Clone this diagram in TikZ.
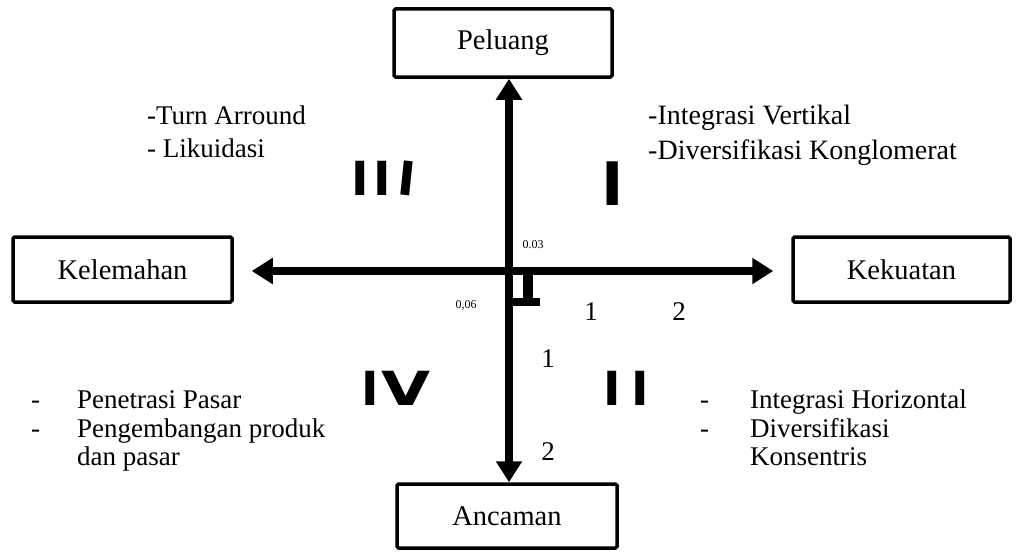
\documentclass[tikz,border=0pt]{standalone}
\usepackage{fontspec}
\setmainfont{Liberation Serif}
\newfontfamily\romfont{DejaVu Sans}
\usetikzlibrary{arrows.meta}
\tikzset{
  box/.style={draw, line width=3.5pt, rounded corners=1.5pt, inner sep=0pt, font=\fontsize{28.5}{34}\selectfont},
  axis/.style={line width=8pt, -{Triangle[width=25pt,length=21pt]}},
  lst/.style={anchor=base west, inner sep=0pt, font=\fontsize{27}{32}\selectfont},
  num/.style={inner sep=0pt, font=\fontsize{27}{32}\selectfont},
  small/.style={inner sep=0pt, font=\fontsize{12}{14}\selectfont},
  rom/.style={inner sep=0pt, font=\romfont\bfseries\fontsize{47}{47}\selectfont}
}
\begin{document}
\begin{tikzpicture}[x=1pt,y=-1pt]
\useasboundingbox (0,0) rectangle (1016,551);
% boxes
\node[box, minimum width=218pt, minimum height=68pt] (P) at (503,43) {Peluang};
\node[box, minimum width=220pt, minimum height=64pt] (A) at (507,516) {Ancaman};
\node[box, minimum width=219pt, minimum height=65pt] (W) at (122.5,269.5) {Kelemahan};
\node[box, minimum width=217pt, minimum height=65pt] (S) at (901.5,269.5) {Kekuatan};
\coordinate (c) at (509,271);
% axes
\draw[axis] (c) -- (c |- P.south);
\draw[axis] (c) -- (c |- A.north);
\draw[axis] (c) -- ([xshift=18pt]W.east |- c);
\draw[axis] (c) -- ([xshift=-18pt]S.west |- c);
% small T mark
\draw[line width=10pt] (528,274) -- (528,302);
\draw[line width=8pt] (513,302) -- (540,302);
% small numbers
\node[small] (n1) at (533,245) {0.03};
\node[small] (n2) at (466,305) {0,06};
\node[num] (h1) at (591,312) {1};
\node[num] (h2) at (679,312) {2};
\node[num] (v1) at (548,359) {1};
\begin{scope}
\clip (520,430) rectangle (580,461);
\node[num] (v2) at (548,452) {2};
\end{scope}
% roman numerals
\node[rom] (r3) at (384,178) {I\kern5pt I\kern5pt\rotatebox[origin=c]{-6}{I}};
\node[rom, font=\romfont\bfseries\fontsize{60}{60}\selectfont] (r1) at (613,184) {I};
\node[rom] (r4) at (396,388) {I\kern3pt\scalebox{1.35}[1]{V}};
\node[rom] (r2) at (626,388) {I\kern11pt I};
% quadrant texts
\node[lst] (t1) at (147,124) {-Turn Arround};
\node[lst] (t2) at (147,157) {- Likuidasi};
\node[lst, font=\fontsize{28}{33}\selectfont] (t3) at (648,124) {-Integrasi Vertikal};
\node[lst, font=\fontsize{28}{33}\selectfont] (t4) at (648,159) {-Diversifikasi Konglomerat};
\node[lst] (d1) at (31,408) {-};
\node[lst] (d2) at (31,437) {-};
\node[lst] (b1) at (77,408) {Penetrasi Pasar};
\node[lst] (b2) at (77,437) {Pengembangan produk};
\node[lst] (b3) at (77,465) {dan pasar};
\node[lst] (d3) at (700,408) {-};
\node[lst] (d4) at (700,437) {-};
\node[lst] (c1) at (750,408) {Integrasi Horizontal};
\node[lst] (c2) at (750,437) {Diversifikasi};
\node[lst] (c3) at (750,465) {Konsentris};
\end{tikzpicture}
\end{document}
